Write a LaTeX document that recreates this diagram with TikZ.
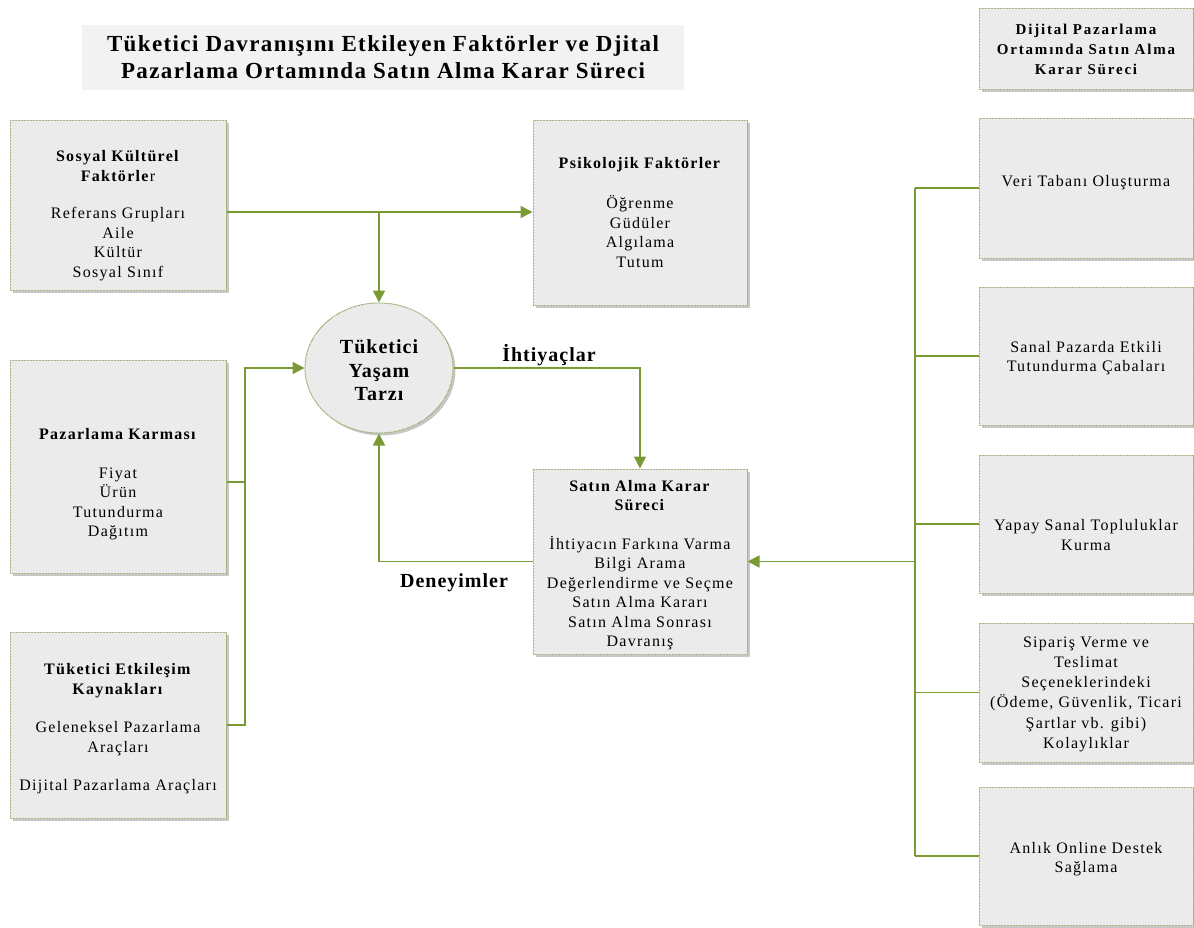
\documentclass[tikz,border=0pt]{standalone}
\usepackage{fontspec}
\setmainfont{Liberation Serif}
% loosely tracked cuts of the same face
\newfontfamily\bodyfont[LetterSpace=8]{Liberation Serif}
\newfontfamily\headfont[LetterSpace=6]{Liberation Serif}
\newfontfamily\widefont[LetterSpace=12]{Liberation Serif}
\newfontfamily\tagfont[LetterSpace=5]{Liberation Serif}
% invisible struts that move a text block down (taller first line) or up (deeper last line)
\newcommand\padtop[1]{\rule{0pt}{#1}}
\newcommand\padbot[1]{\rule[-#1]{0pt}{0pt}}
\usetikzlibrary{arrows.meta,shapes.geometric,shadows,patterns}
\definecolor{boxfill}{HTML}{EFEFEF}
\definecolor{stripe}{HTML}{E5E5E5}
\definecolor{boxline}{HTML}{A5B37E}
\definecolor{connect}{HTML}{7A9A35}
\definecolor{titlefill}{HTML}{F2F2F2}
\tikzset{
  panel/.style={draw=boxline, line width=1pt, fill=boxfill,
    postaction={pattern=north east lines, pattern color=stripe},
    drop shadow={shadow xshift=2.5pt, shadow yshift=-2.5pt, fill=black, opacity=0.22},
    align=center, inner sep=0pt, font=\bodyfont\fontsize{16}{19.5}\selectfont},
  conn/.style={draw=connect, line width=1.6pt},
  arr/.style={conn, -{Triangle[length=12pt,width=12pt]}},
  tag/.style={font=\tagfont\bfseries\fontsize{20}{24}\selectfont}
}
\begin{document}
\begin{tikzpicture}[x=1pt,y=-1pt]
\useasboundingbox (0,0) rectangle (1194,927);

% heading
\node[fill=titlefill, minimum width=602pt, minimum height=65pt, inner sep=0pt,
      align=center, font=\headfont\bfseries\fontsize{23}{27}\selectfont] (title) at (383,57.5)
  {Tüketici Davranışını Etkileyen Faktörler ve Djital\\Pazarlama Ortamında Satın Alma Karar Süreci};

% influencing factors
\node[panel, minimum width=216pt, minimum height=170pt] (sosyal) at (118,205)
  {\padtop{32pt}\textbf{Sosyal Kültürel}\\\textbf{Faktörle}r\\[18pt]Referans Grupları\\Aile\\Kültür\\Sosyal Sınıf};
\node[panel, minimum width=214pt, minimum height=185pt] (psiko) at (640,212.5)
  {\textbf{Psikolojik Faktörler}\\[21pt]Öğrenme\\Güdüler\\Algılama\\Tutum};
\node[panel, minimum width=216pt, minimum height=213pt] (pazar) at (118,466.5)
  {\padtop{47pt}\textbf{Pazarlama Karması}\\[19pt]Fiyat\\Ürün\\Tutundurma\\Dağıtım};
\node[panel, minimum width=216pt, minimum height=186pt] (etkil) at (118,725)
  {\padtop{19pt}\textbf{Tüketici Etkileşim}\\\textbf{Kaynakları}\\[19pt]Geleneksel Pazarlama\\Araçları\\[19pt]Dijital Pazarlama Araçları};

% lifestyle
\node[panel, ellipse, minimum width=148pt, minimum height=130pt,
      font=\tagfont\bfseries\fontsize{20}{23.5}\selectfont] (yasam) at (379,368)
  {\padtop{19pt}Tüketici\\Yaşam\\Tarzı};

% purchase decision
\node[panel, minimum width=214pt, minimum height=185pt] (satin) at (640,561.5)
  {\padtop{18pt}\textbf{Satın Alma Karar}\\\textbf{Süreci}\\[19pt]İhtiyacın Farkına Varma\\Bilgi Arama\\Değerlendirme ve Seçme\\Satın Alma Kararı\\Satın Alma Sonrası\\Davranış};

% digital environment column
\node[panel, minimum width=214pt, minimum height=81pt,
      font=\widefont\bfseries\fontsize{15}{20}\selectfont] (dijital) at (1086,49)
  {Dijital Pazarlama\\Ortamında Satın Alma\\Karar Süreci};
\node[panel, minimum width=214pt, minimum height=140pt] (veri) at (1086,188)
  {Veri Tabanı Oluşturma\padbot{15pt}};
\node[panel, minimum width=214pt, minimum height=138pt] (sanal) at (1086,356)
  {\padtop{15pt}Sanal Pazarda Etkili\\Tutundurma Çabaları};
\node[panel, minimum width=214pt, minimum height=138pt] (yapay) at (1086,524)
  {\padtop{33pt}Yapay Sanal Topluluklar\\Kurma};
\node[panel, minimum width=214pt, minimum height=139pt,
      font=\bodyfont\fontsize{16}{20.2}\selectfont] (siparis) at (1086,692.5)
  {\padtop{14pt}Sipariş Verme ve\\Teslimat\\Seçeneklerindeki\\(Ödeme, Güvenlik, Ticari\\Şartlar vb. gibi)\\Kolaylıklar};
\node[panel, minimum width=214pt, minimum height=138pt] (anlik) at (1086,856)
  {\padtop{17pt}Anlık Online Destek\\Sağlama};

% junction points
\coordinate (jtop) at (379,212);
\coordinate (jleft) at (245,368);
\coordinate (jright) at (915,561.5);

% factors into lifestyle
\draw[arr] (sosyal.east |- jtop) -- (psiko.west |- jtop);
\draw[arr] (jtop) -- (yasam.north);
\draw[conn] (pazar.east |- 0,482) -- (jleft |- 0,482);
\draw[arr] (etkil.east) -| (jleft) -- (yasam.west);

% needs and experiences
\draw[arr] (yasam.east) -| (satin.north);
\draw[arr] (satin.west) -| (yasam.south);
\node[tag] (needs) at (549,355) {İhtiyaçlar};
\node[tag] (exper) at (454,583) {Deneyimler};

% digital environment bus
\draw[conn] (jright |- veri.west) -- (jright |- anlik.west);
\draw[conn] (jright |- veri.west) -- (veri.west);
\draw[conn] (jright |- sanal.west) -- (sanal.west);
\draw[conn] (jright |- yapay.west) -- (yapay.west);
\draw[conn] (jright |- siparis.west) -- (siparis.west);
\draw[conn] (jright |- anlik.west) -- (anlik.west);
\draw[arr] (jright) -- (satin.east);
\end{tikzpicture}
\end{document}
